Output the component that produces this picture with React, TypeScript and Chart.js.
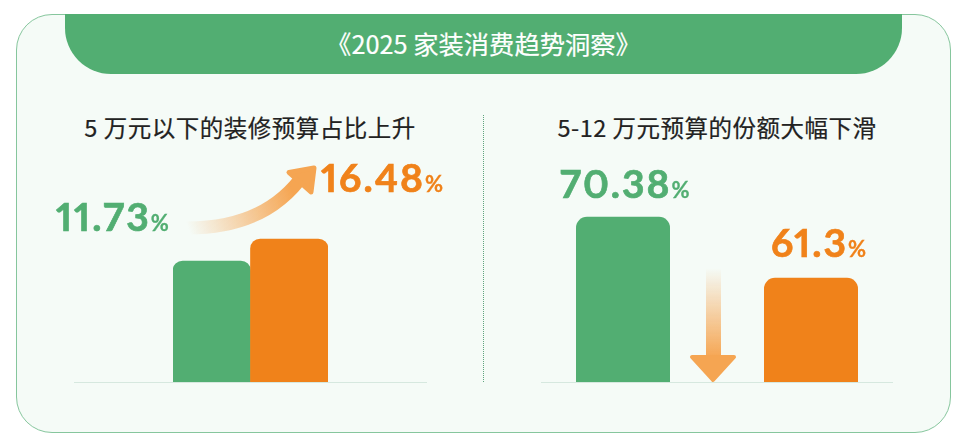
import type { ReactNode } from "react";
import { useEffect, useRef } from "react";
import Chart from "chart.js/auto";

const headerTitle = "《2025 家装消费趋势洞察》";

const leftTitle = "5 万元以下的装修预算占比上升";
const leftCategories = ["此前", "2025"];
const leftValues = [11.73, 16.48];

const rightTitle = "5-12 万元预算的份额大幅下滑";
const rightCategories = ["此前", "2025"];
const rightValues = [70.38, 61.3];

const GREEN = "#52ae72";
const ORANGE = "#f0821a";
const ARROW = "#f5a552";

// draws the thin floor line, it runs wider than the bars on the left panel
const floorLine = {
  id: "floorLine",
  afterDatasetsDraw(chart: any, _args: any, opts: any) {
    const { ctx, chartArea } = chart;
    ctx.save();
    ctx.strokeStyle = "#d6e8df";
    ctx.lineWidth = 1;
    ctx.beginPath();
    ctx.moveTo(opts.inset, chartArea.bottom + 0.5);
    ctx.lineTo(chart.width - opts.inset, chartArea.bottom + 0.5);
    ctx.stroke();
    ctx.restore();
  },
};

function Bars(props: {
  labels: string[];
  values: number[];
  min: number;
  max: number;
  barPercentage: number;
  radius: number;
  sidePadding: number;
  lineInset: number;
  left: number;
  width: number;
}): ReactNode {
  const { labels, values, min, max, barPercentage, radius, sidePadding, lineInset, left, width } = props;
  const canvasRef = useRef<HTMLCanvasElement | null>(null);

  useEffect(() => {
    if (!canvasRef.current) return;

    const chart = new Chart(canvasRef.current, {
      type: "bar",
      data: {
        labels,
        datasets: [
          {
            data: values,
            base: min,
            backgroundColor: [GREEN, ORANGE],
            borderRadius: radius,
            barPercentage,
            categoryPercentage: 1,
          },
        ],
      },
      options: {
        animation: false,
        responsive: false,
        layout: { padding: { left: sidePadding, right: sidePadding, top: 0, bottom: 2 } },
        plugins: {
          legend: { display: false },
          tooltip: { enabled: false },
          floorLine: { inset: lineInset },
        } as any,
        scales: {
          x: { display: false },
          y: { display: false, min, max },
        },
      },
      plugins: [floorLine],
    });

    return () => chart.destroy();
  }, [labels, values, min, max, barPercentage, radius, sidePadding, lineInset]);

  return (
    <div style={{ position: "absolute", left, top: 150, width, height: 234 }}>
      <canvas ref={canvasRef} width={width} height={234} style={{ display: "block" }} />
    </div>
  );
}

function Value(props: { value: number; color: string; left: number; baseline: number }): ReactNode {
  const { value, color, left, baseline } = props;
  return (
    <div
      style={{
        position: "absolute",
        left,
        top: baseline - 35,
        color,
        font: "700 39px/1 Lato, sans-serif",
        fontFeatureSettings: "'pnum' 1",
        letterSpacing: 2,
        WebkitTextStroke: `0.7px ${color}`,
        whiteSpace: "nowrap",
      }}
    >
      {value}
      <span style={{ fontSize: 22, letterSpacing: 0, WebkitTextStroke: `0.3px ${color}` }}>%</span>
    </div>
  );
}

function PanelTitle(props: { text: string; center: number }): ReactNode {
  return (
    <div
      style={{
        position: "absolute",
        left: props.center - 200,
        width: 400,
        top: 112,
        textAlign: "center",
        color: "#222222",
        font: "400 23.5px/30px 'Noto Sans CJK SC', sans-serif",
        letterSpacing: 0.5,
        WebkitTextStroke: "0.2px #222222",
      }}
    >
      {props.text}
    </div>
  );
}

export default function App(): ReactNode {
  useEffect(() => {
    document.body.style.margin = "0";
  }, []);

  return (
    <div style={{ position: "relative", width: 966, height: 448, background: "#ffffff", overflow: "hidden" }}>
      {/* card */}
      <div
        style={{
          position: "absolute",
          left: 16,
          top: 14,
          width: 933,
          height: 417,
          background: "#f5fbf7",
          border: "1px solid #86c69d",
          borderRadius: 36,
        }}
      />
      {/* header tab */}
      <div
        style={{
          position: "absolute",
          left: 65,
          top: 14,
          width: 837,
          height: 60,
          background: GREEN,
          borderRadius: "0 0 46px 46px",
          color: "#ffffff",
          textAlign: "center",
          font: "400 25.3px/58px 'Noto Sans CJK SC', sans-serif",
          WebkitTextStroke: "0.2px #ffffff",
        }}
      >
        {headerTitle}
      </div>

      <PanelTitle text={leftTitle} center={250} />
      <PanelTitle text={rightTitle} center={717} />

      {/* divider */}
      <div style={{ position: "absolute", left: 483, top: 115, height: 267, borderLeft: "1px dotted #5fa47e" }} />

      <Bars
        labels={leftCategories}
        values={leftValues}
        min={-14.4}
        max={35.7}
        barPercentage={1}
        radius={10}
        sidePadding={99}
        lineInset={0}
        left={74}
        width={353}
      />
      <Bars
        labels={rightCategories}
        values={rightValues}
        min={45.8}
        max={80.3}
        barPercentage={0.5}
        radius={11}
        sidePadding={0}
        lineInset={12}
        left={529}
        width={376}
      />

      <svg width={966} height={448} style={{ position: "absolute", left: 0, top: 0 }}>
        <defs>
          <linearGradient id="upFade" gradientUnits="userSpaceOnUse" x1={188} y1={228} x2={292} y2={190}>
            <stop offset="0" stopColor={ARROW} stopOpacity={0} />
            <stop offset="1" stopColor={ARROW} />
          </linearGradient>
          <linearGradient id="downFade" gradientUnits="userSpaceOnUse" x1={713} y1={268} x2={713} y2={358}>
            <stop offset="0" stopColor={ARROW} stopOpacity={0} />
            <stop offset="1" stopColor={ARROW} />
          </linearGradient>
        </defs>
        <path d="M182 228 Q265 230 304 174" fill="none" stroke="url(#upFade)" strokeWidth={13} />
        <path
          d="M289 172.5 L314 168 L311 192 Z"
          fill={ARROW}
          stroke={ARROW}
          strokeWidth={5}
          strokeLinejoin="round"
        />
        <rect x={706} y={268} width={15} height={90} fill="url(#downFade)" />
        <path
          d="M692 357 L734 357 L713 380 Z"
          fill={ARROW}
          stroke={ARROW}
          strokeWidth={4}
          strokeLinejoin="round"
        />
      </svg>

      <Value value={leftValues[0]} color={GREEN} left={56} baseline={232} />
      <Value value={leftValues[1]} color={ORANGE} left={321} baseline={193} />
      <Value value={rightValues[0]} color={GREEN} left={560} baseline={199} />
      <Value value={rightValues[1]} color={ORANGE} left={771} baseline={258} />
    </div>
  );
}
